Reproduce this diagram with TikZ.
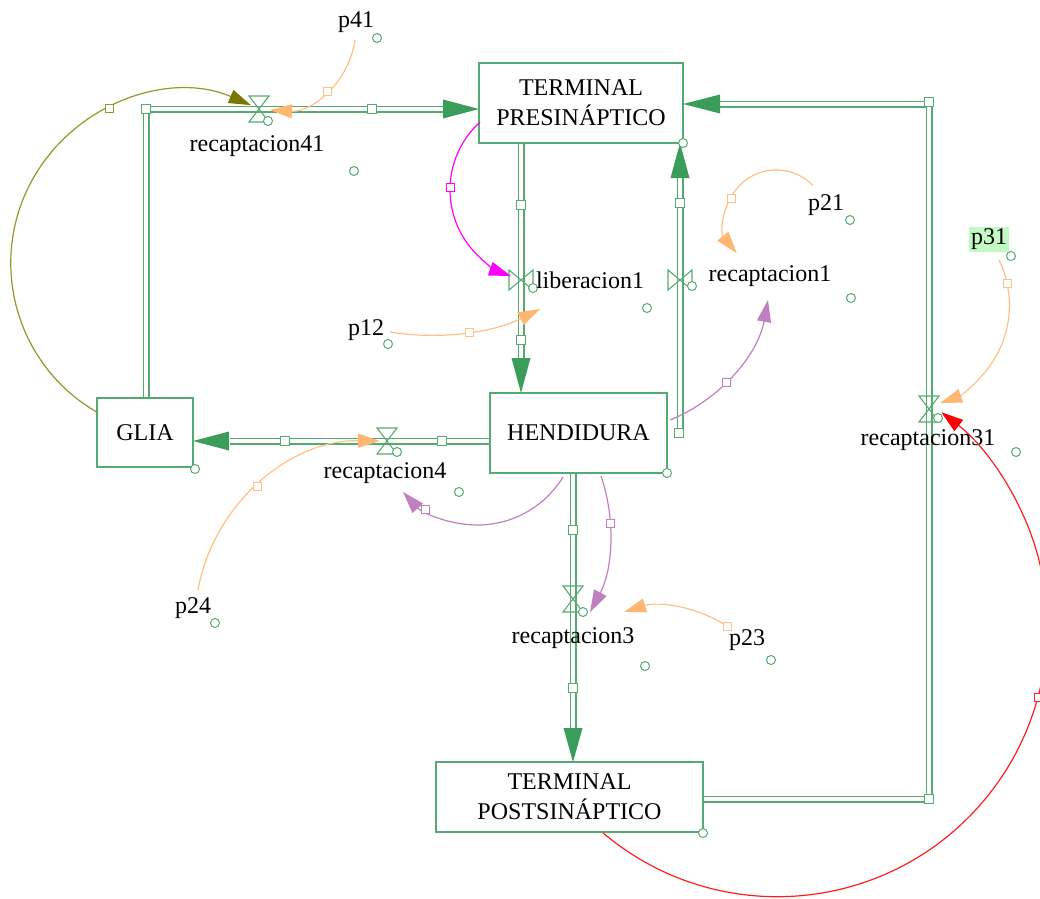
\documentclass[tikz,border=0pt]{standalone}
\usepackage{fontspec}
\setmainfont{Liberation Serif}
\usetikzlibrary{arrows.meta,calc}
\definecolor{pipe}{RGB}{84,170,112}
\definecolor{pipehead}{RGB}{58,158,90}
\definecolor{orangec}{RGB}{255,192,135}
\definecolor{orangeh}{RGB}{255,182,115}
\definecolor{purplec}{RGB}{192,128,192}
\definecolor{olivec}{RGB}{150,150,40}
\definecolor{oliveh}{RGB}{120,120,0}
\definecolor{redc}{RGB}{255,30,30}
\definecolor{magc}{RGB}{255,0,255}
\definecolor{pbg}{RGB}{195,250,195}
\begin{document}
\begin{tikzpicture}[x=1pt,y=-1pt]
\tikzset{
  every node/.style={font=\fontsize{24}{30}\selectfont},
  stock/.style={draw=pipe, line width=1.3pt, fill=white, inner sep=0pt, align=center},
  lbl/.style={inner sep=0pt, text=black},
  pipeline/.style={draw=pipe, line width=1.6pt, double=white, double distance=3.8pt},
  sq/.style={draw=pipe, fill=white, line width=1pt, minimum size=9pt, inner sep=0pt, rectangle, font=\tiny},
  smalldot/.style={draw=pipe, fill=white, line width=1pt, minimum size=9pt, inner sep=0pt, circle, font=\tiny},
  hd/.style={draw=#1, fill=white, line width=0.9pt, minimum size=8pt, inner sep=0pt, rectangle, font=\tiny},
  conn/.style={line width=1.2pt, draw=#1},
  tipc/.style={-{Triangle[length=22pt,width=14pt,color=#1]}},
  valveh/.pic={\draw[pipe, line width=1.1pt] (-10,-13) -- (10,-13) -- (-10,13) -- (10,13) -- cycle;},
  valvev/.pic={\draw[pipe, line width=1.1pt] (-12,-10) -- (-12,10) -- (12,-10) -- (12,10) -- cycle;},
}
\useasboundingbox (0,0) rectangle (1040,898);

% ---------- pipes ----------
\coordinate (A1) at (146,398); \coordinate (A2) at (146,109); \coordinate (A3) at (445,109);
\draw[pipeline] (A1) -- (A2) -- (A3);
\fill[pipehead] (479,109) -- (443,99.5) -- (443,118.5) -- cycle;

\coordinate (B1) at (521,143); \coordinate (B2) at (521,359);
\draw[pipeline] (B1) -- (B2);
\fill[pipehead] (521,393) -- (511.5,358) -- (530.5,358) -- cycle;

\coordinate (C1) at (680,437); \coordinate (C2) at (680,177);
\draw[pipeline] (C1) -- (C2);
\fill[pipehead] (680,143) -- (670.5,178) -- (689.5,178) -- cycle;

\coordinate (D1) at (703,799); \coordinate (D2) at (929,799); \coordinate (D3) at (929,104); \coordinate (D4) at (719,104);
\draw[pipeline] (D1) -- (D2) -- (D3) -- (D4);
\fill[pipehead] (683,104) -- (720,94.5) -- (720,113.5) -- cycle;

\coordinate (E1) at (490,441); \coordinate (E2) at (230,441);
\draw[pipeline] (E1) -- (E2);
\fill[pipehead] (193,441) -- (229,431.5) -- (229,450.5) -- cycle;

\coordinate (F1) at (573,473); \coordinate (F2) at (573,729);
\draw[pipeline] (F1) -- (F2);
\fill[pipehead] (573,762) -- (563.5,728) -- (582.5,728) -- cycle;

% ---------- valves ----------
\pic at (259,109) {valveh};
\pic at (929,409) {valveh};
\pic at (387,441) {valveh};
\pic at (573,599) {valveh};
\pic at (521,280) {valvev};
\pic at (680,280) {valvev};

% ---------- pipe handles ----------
\node[sq] (s1) at (146,109) {};
\node[sq] (s2) at (372,109) {};
\node[sq] (s3) at (521,205) {};
\node[sq] (s4) at (521,340) {};
\node[sq] (s5) at (680,203) {};
\node[sq] (s6) at (679,433) {};
\node[sq] (s7) at (929,102) {};
\node[sq] (s8) at (929,799) {};
\node[sq] (s9) at (285,441) {};
\node[sq] (s10) at (442,441) {};
\node[sq] (s11) at (573,530) {};
\node[sq] (s12) at (573,688) {};

% ---------- stocks ----------
\node[stock, minimum width=204pt, minimum height=80pt] (pre) at (581,103) {TERMINAL\\PRESINÁPTICO};
\node[stock, minimum width=177pt, minimum height=80pt] (hen) at (578.5,433) {HENDIDURA};
\node[stock, minimum width=96pt, minimum height=69pt] (glia) at (145,432.5) {GLIA};
\node[stock, minimum width=267pt, minimum height=70pt] (post) at (569.5,797) {TERMINAL\\POSTSINÁPTICO};

% ---------- small circles ----------
\node[smalldot] (c1) at (683,143) {};
\node[smalldot] (c2) at (667,473) {};
\node[smalldot] (c3) at (195,469) {};
\node[smalldot] (c4) at (703,833) {};
\node[smalldot] (c5) at (377,38) {};
\node[smalldot] (c6) at (850,220) {};
\node[smalldot] (c7) at (388,344) {};
\node[smalldot] (c8) at (1011,256) {};
\node[smalldot] (c9) at (215,623) {};
\node[smalldot] (c10) at (771,660) {};
\node[smalldot] (c11) at (354,171) {};
\node[smalldot] (c12) at (647,308) {};
\node[smalldot] (c13) at (851,298) {};
\node[smalldot] (c14) at (1016,452) {};
\node[smalldot] (c15) at (459,492) {};
\node[smalldot] (c16) at (645,666) {};
\node[smalldot] (v1) at (268,121) {};
\node[smalldot] (v2) at (533,288) {};
\node[smalldot] (v3) at (692,286) {};
\node[smalldot] (v4) at (938,418) {};
\node[smalldot] (v5) at (397,452) {};
\node[smalldot] (v6) at (583,612) {};

% ---------- labels ----------
\node[lbl] (l41) at (257,146) {recaptacion41};
\node[lbl] (llib) at (590,280) {liberacion1};
\node[lbl] (lr1) at (770,276) {recaptacion1};
\node[lbl] (lr31) at (928,440) {recaptacion31};
\node[lbl] (lr4) at (385,473) {recaptacion4};
\node[lbl] (lr3) at (573,638) {recaptacion3};
\node[lbl] (p41) at (356,22) {p41};
\node[lbl] (p21) at (826,205) {p21};
\node[lbl] (p12) at (366,330) {p12};
\node[lbl, fill=pbg, inner sep=2pt] (p31) at (989,239) {p31};
\node[lbl] (p24) at (193,608) {p24};
\node[lbl] (p23) at (747,640) {p23};

% ---------- connectors (circular arcs) ----------
\coordinate (kO) at (182.8,263.1);
\draw[conn=olivec, tipc=oliveh] ($(kO)+(240:172pt)$) arc[start angle=240, end angle=66.7, radius=172pt];
\coordinate (kM) at (541.5,189.8);
\draw[conn=magc, tipc=magc] ($(kM)+(132.2:91.5pt)$) arc[start angle=132.2, end angle=250.5, radius=91.5pt];
\coordinate (k41) at (274.7,29.1);
\draw[conn=orangec, tipc=orangeh] ($(k41)+(-7.7:81pt)$) arc[start angle=-7.7, end angle=-93.3, radius=81pt];
\coordinate (k21) at (776.2,220.9);
\draw[conn=orangec, tipc=orangeh] ($(k21)+(44.3:51pt)$) arc[start angle=44.3, end angle=219.3, radius=51pt];
\coordinate (k12) at (429.5,89);
\draw[conn=orangec, tipc=orangeh] ($(k12)+(-99.2:246.2pt)$) arc[start angle=-99.2, end angle=-63.3, radius=246.2pt];
\coordinate (k31) at (905.8,305.3);
\draw[conn=orangec, tipc=orangeh] ($(k31)+(25.9:103.6pt)$) arc[start angle=25.9, end angle=-70.7, radius=103.6pt];
\coordinate (k24) at (376.7,622.7);
\draw[conn=orangec, tipc=orangeh] ($(k24)+(169.6:181.7pt)$) arc[start angle=169.6, end angle=89, radius=181.7pt];
\coordinate (k23) at (660.5,729);
\draw[conn=orangec, tipc=orangeh] ($(k23)+(57.1:122.6pt)$) arc[start angle=57.1, end angle=107.3, radius=122.6pt];
\coordinate (kP1) at (609.5,270.6);
\draw[conn=purplec, tipc=purplec] ($(kP1)+(-67.9:161.2pt)$) arc[start angle=-67.9, end angle=-10.5, radius=161.2pt];
\coordinate (kP2) at (477.4,424.7);
\draw[conn=purplec, tipc=purplec] ($(kP2)+(-31.4:100.3pt)$) arc[start angle=-31.4, end angle=-137.9, radius=100.3pt];
\coordinate (kP3) at (438.9,531.4);
\draw[conn=purplec, tipc=purplec] ($(kP3)+(18.9:171.3pt)$) arc[start angle=18.9, end angle=-28.1, radius=171.3pt];
\coordinate (kR) at (777.3,626.7);
\draw[conn=redc, tipc=red] ($(kR)+(229.8:270pt)$) arc[start angle=229.8, end angle=412.6, radius=270pt];

% ---------- connector handles ----------
\node[hd=olivec] (h1) at (109,108) {};
\node[hd=magc] (h2) at (450,187) {};
\node[hd=orangec] (h3) at (327,91) {};
\node[hd=orangec] (h4) at (731,198) {};
\node[hd=orangec] (h5) at (469,332) {};
\node[hd=orangec] (h6) at (1007,283) {};
\node[hd=orangec] (h7) at (257,486) {};
\node[hd=orangec] (h8) at (727,626) {};
\node[hd=purplec] (h9) at (726,382) {};
\node[hd=purplec] (h10) at (425,509) {};
\node[hd=purplec] (h11) at (610,523) {};
\node[hd=redc] (h12) at (1038,697) {};
\end{tikzpicture}
\end{document}
